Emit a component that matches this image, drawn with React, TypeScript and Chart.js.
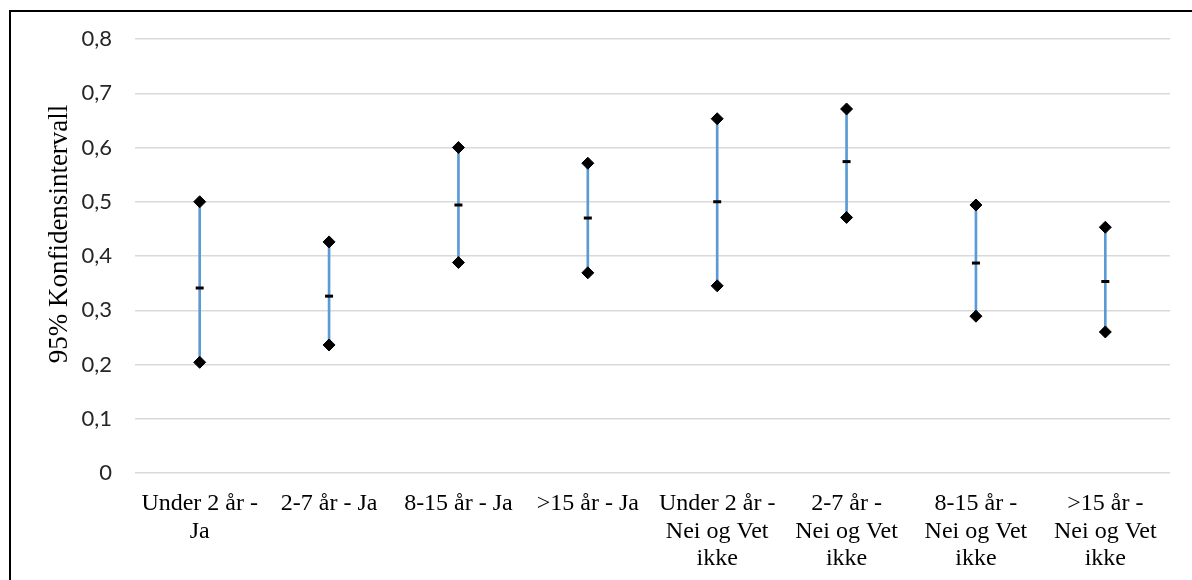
import React, { useEffect, useRef } from "react";
import { Chart, registerables } from "chart.js";

Chart.register(...registerables);

const categories: (string | string[])[] = [
  ["Under 2 år -", "Ja"],
  "2-7 år - Ja",
  "8-15 år - Ja",
  ">15 år - Ja",
  ["Under 2 år -", "Nei og Vet", "ikke"],
  ["2-7 år -", "Nei og Vet", "ikke"],
  ["8-15 år -", "Nei og Vet", "ikke"],
  [">15 år -", "Nei og Vet", "ikke"],
];

const lowValues = [0.204, 0.236, 0.388, 0.369, 0.345, 0.471, 0.289, 0.26];
const meanValues = [0.341, 0.326, 0.494, 0.47, 0.5, 0.574, 0.387, 0.353];
const highValues = [0.5, 0.426, 0.6, 0.571, 0.653, 0.671, 0.494, 0.453];

const yTicks = [0, 0.1, 0.2, 0.3, 0.4, 0.5, 0.6, 0.7, 0.8];
const yTitle = "95% Konfidensintervall";

const W = 1192;
const H = 580;

const framePlugin = {
  id: "frameAndTitle",
  afterDraw(chart: any) {
    const ctx = chart.ctx;
    ctx.save();
    ctx.fillStyle = "#000000";
    ctx.fillRect(9, 10, W - 9, 2);
    ctx.fillRect(9, 10, 2, H - 10);
    ctx.translate(60, 234);
    ctx.rotate(-Math.PI / 2);
    ctx.font = '27px "Liberation Serif"';
    ctx.textAlign = "center";
    ctx.textBaseline = "middle";
    ctx.fillText(yTitle, 0, 0);
    ctx.restore();
  },
};

export default function App() {
  const ref = useRef<HTMLCanvasElement | null>(null);

  useEffect(() => {
    if (!ref.current) return;
    const chart = new Chart(ref.current, {
      type: "bar",
      data: {
        labels: categories,
        datasets: [
          {
            type: "bar",
            label: "CI",
            data: categories.map((_, i) => [lowValues[i], highValues[i]]) as any,
            backgroundColor: "#5B9BD5",
            barThickness: 2,
            borderSkipped: false,
            order: 3,
          },
          {
            type: "line",
            label: "Mean",
            data: meanValues,
            showLine: false,
            pointStyle: "line",
            pointRadius: 4,
            pointBorderWidth: 3,
            pointBorderColor: "#000000",
            pointBackgroundColor: "#000000",
            order: 2,
          },
          {
            type: "line",
            label: "High",
            data: highValues,
            showLine: false,
            pointStyle: "rectRot",
            pointRadius: 6,
            pointBorderWidth: 1,
            pointBorderColor: "#000000",
            pointBackgroundColor: "#000000",
            order: 1,
          },
          {
            type: "line",
            label: "Low",
            data: lowValues,
            showLine: false,
            pointStyle: "rectRot",
            pointRadius: 6,
            pointBorderWidth: 1,
            pointBorderColor: "#000000",
            pointBackgroundColor: "#000000",
            order: 1,
          },
        ],
      },
      options: {
        animation: false,
        responsive: false,
        events: [],
        layout: { padding: { left: 0, right: 22, top: 39, bottom: 0 } },
        plugins: {
          legend: { display: false },
          tooltip: { enabled: false },
          title: { display: false },
        },
        scales: {
          x: {
            offset: true,
            grid: { display: false, drawTicks: false },
            border: { display: false },
            afterFit: (scale: any) => {
              scale.height = H - 473;
            },
            ticks: {
              autoSkip: false,
              maxRotation: 0,
              minRotation: 0,
              padding: 17,
              color: "#000000",
              font: { family: '"Liberation Serif"', size: 24, lineHeight: 1.15 },
            },
          },
          y: {
            min: 0,
            max: 0.8,
            afterFit: (scale: any) => {
              scale.width = 135;
            },
            afterBuildTicks: (scale: any) => {
              scale.ticks = yTicks.map((v) => ({ value: v }));
            },
            grid: { color: "#d9d9d9", lineWidth: 1.5, drawTicks: false },
            border: { display: false },
            ticks: {
              padding: 23,
              color: "#262626",
              font: { family: "Lato", size: 22 },
              callback: (v: any) =>
                Number(v) === 0 ? "0" : Number(v).toFixed(1).replace(".", ","),
            },
          },
        },
      },
      plugins: [framePlugin],
    });
    return () => chart.destroy();
  }, []);

  return (
    <canvas
      ref={ref}
      width={W}
      height={H}
      style={{ position: "fixed", left: 0, top: 0, width: W, height: H, display: "block", background: "#ffffff" }}
    />
  );
}
